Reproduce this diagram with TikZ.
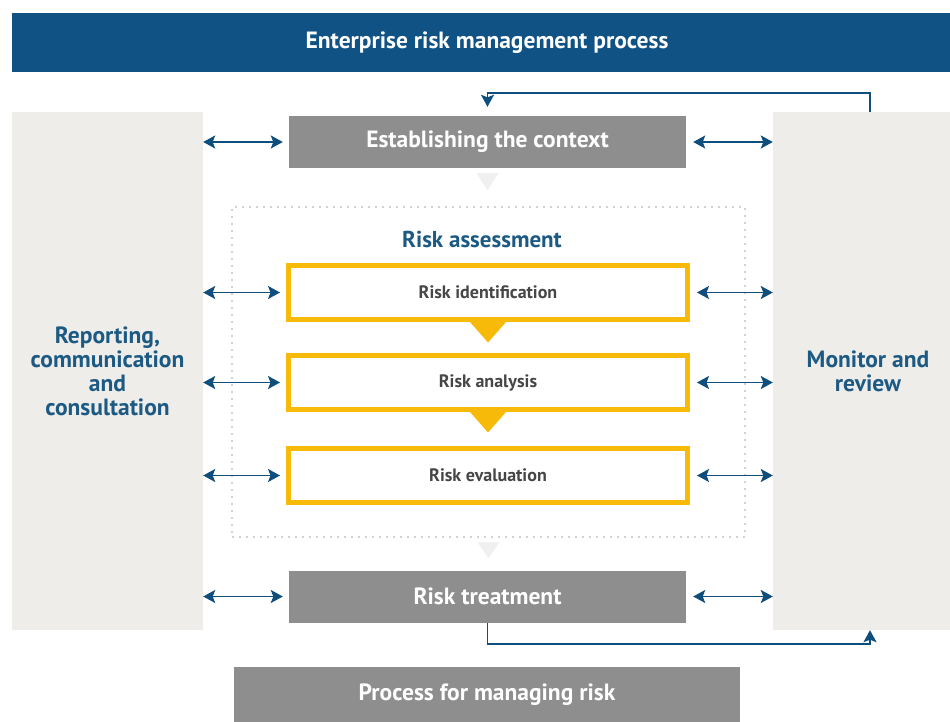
\documentclass[tikz,border=0pt]{standalone}
\usepackage{fontspec}
\setmainfont{PT Sans}
\usetikzlibrary{positioning,arrows.meta,calc}
\definecolor{headBlue}{RGB}{16,82,132}
\definecolor{linkBlue}{RGB}{14,78,124}
\definecolor{textBlue}{RGB}{28,90,132}
\definecolor{stageGray}{RGB}{142,142,142}
\definecolor{panelGray}{RGB}{238,237,234}
\definecolor{riskGold}{RGB}{247,186,8}
\definecolor{subText}{RGB}{70,70,70}

\begin{document}
\begin{tikzpicture}[
    x=1pt, y=-1pt,
    linktip/.tip={Stealth[length=12pt, width=13pt, inset=2.5pt]},
    head/.style={fill=headBlue, text=white, font=\bfseries\fontsize{23.5}{26}\selectfont,
      minimum width=938pt, minimum height=59pt, inner sep=0pt},
    panel/.style={fill=panelGray, text=textBlue, align=center,
      font=\bfseries\fontsize{23.5}{24}\selectfont, minimum height=518pt, inner sep=0pt},
    stage/.style={fill=stageGray, text=white, font=\bfseries\fontsize{23.5}{26}\selectfont,
      minimum width=397pt, minimum height=52pt, inner sep=0pt},
    sub/.style={draw=riskGold, line width=5pt, fill=white, text=subText,
      font=\bfseries\fontsize{18}{20}\selectfont,
      minimum width=399pt, minimum height=54pt, inner sep=0pt},
    assessbox/.style={draw=gray!35, line width=2.5pt, dash pattern=on 2pt off 5pt,
      minimum width=513pt, minimum height=330pt, inner sep=0pt},
    link/.style={linktip-linktip, draw=linkBlue, line width=1.7pt,
      shorten >=6pt, shorten <=0pt},
    feed/.style={-linktip, draw=linkBlue, line width=1.6pt},
]
\useasboundingbox (0,0) rectangle (950,722);

\node[head] (head) at (481,42.5) {\hspace*{12pt}Enterprise risk management process};

% side panels
\node[panel, minimum width=191pt] (report) at (107.5,371)
  {Reporting,\\communication\\and\\consultation};
\node[panel, minimum width=177pt] (monitor) at (861.5,371)
  {\hspace*{13pt}Monitor and\\\hspace*{13pt}review};

% main steps
\node[stage] (ctx) at (487.5,142) {Establishing the context};
\node[assessbox] (assess) at (488.5,372) {};
\node[font=\bfseries\fontsize{23}{26}\selectfont, text=textBlue] (assesslbl) at (482,239) {Risk assessment};
\node[sub] (ident) at (488,292.5) {Risk identification};
\node[sub] (analysis) at (488,382.5) {Risk analysis};
\node[sub] (evaluation) at (488,475.5) {Risk evaluation};
\node[stage] (treatment) at (487.5,596.5) {Risk treatment};
\node[stage, minimum width=506pt, minimum height=55pt] (process) at (487,694.5) {Process for managing risk};

% step markers
\foreach \a in {ident,analysis}
  \fill[riskGold] ([xshift=-18pt]\a.south) -- ([xshift=18pt]\a.south)
    -- ([yshift=-20.5pt]\a.south) -- cycle;
\fill[gray!12] ([xshift=-11pt,yshift=-5pt]ctx.south) -- ([xshift=11pt,yshift=-5pt]ctx.south)
  -- ([yshift=-22pt]ctx.south) -- cycle;
\fill[gray!12] ([xshift=-11pt,yshift=-4pt]assess.south) -- ([xshift=11pt,yshift=-4pt]assess.south)
  -- ([yshift=-20pt]assess.south) -- cycle;

% two-way links to the side panels
\foreach \n in {ctx,ident,analysis,evaluation,treatment} {
  \draw[link] (report.east |- \n) -- (\n.west);
  \draw[link, shorten >=0pt, shorten <=7pt] (\n.east) -- (monitor.west |- \n);
}

% feedback loop
\draw[feed, shorten >=9pt] ([xshift=8.5pt]monitor.north) -- ++(0,-19) -| (ctx.north);
\draw[feed] (treatment.south) -- ++(0,21) -| ([xshift=8.5pt]monitor.south);
\end{tikzpicture}
\end{document}
